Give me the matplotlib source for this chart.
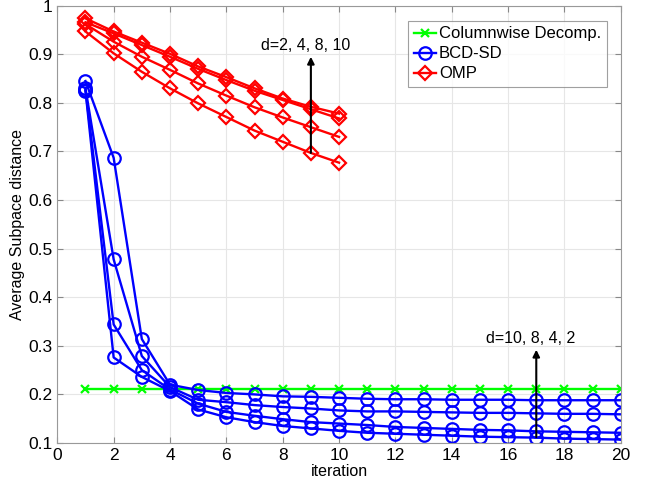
import matplotlib
matplotlib.use("Agg")
import matplotlib.pyplot as plt
import numpy as np

plt.rcParams['font.family'] = ['Liberation Sans', 'DejaVu Sans']

# iterations
iters_omp = np.arange(1, 11)
iters = np.arange(1, 21)

# Columnwise decomposition (flat)
colwise = [0.211] * 20

# BCD-SD, one curve per d
bcd = [
    [0.845, 0.687, 0.314, 0.220, 0.209, 0.203, 0.200, 0.196, 0.195, 0.193,
     0.191, 0.190, 0.190, 0.189, 0.189, 0.189, 0.188, 0.188, 0.188, 0.188],
    [0.830, 0.478, 0.279, 0.215, 0.189, 0.184, 0.178, 0.174, 0.171, 0.167,
     0.165, 0.165, 0.164, 0.163, 0.162, 0.162, 0.161, 0.160, 0.160, 0.159],
    [0.827, 0.344, 0.250, 0.210, 0.181, 0.164, 0.156, 0.149, 0.143, 0.140,
     0.137, 0.133, 0.131, 0.129, 0.127, 0.126, 0.124, 0.123, 0.122, 0.121],
    [0.825, 0.276, 0.236, 0.207, 0.169, 0.153, 0.143, 0.135, 0.130, 0.125,
     0.121, 0.119, 0.117, 0.115, 0.113, 0.112, 0.111, 0.109, 0.108, 0.107],
]

# OMP, one curve per d
omp = [
    [0.974, 0.947, 0.924, 0.901, 0.875, 0.853, 0.830, 0.809, 0.792, 0.778],
    [0.966, 0.943, 0.919, 0.895, 0.870, 0.847, 0.825, 0.806, 0.787, 0.768],
    [0.962, 0.926, 0.895, 0.868, 0.840, 0.815, 0.791, 0.770, 0.750, 0.730],
    [0.947, 0.902, 0.864, 0.830, 0.799, 0.771, 0.743, 0.720, 0.697, 0.677],
]

fig = plt.figure(figsize=(6.46, 4.86), dpi=100)
ax = fig.add_axes([0.0887, 0.0885, 0.8723, 0.8997])

lw = 1.7
ax.plot(iters, colwise, color='#00ff00', lw=lw, marker='x', ms=6, mew=1.6,
        label='Columnwise Decomp.')
for i, y in enumerate(bcd):
    ax.plot(iters, y, color='#0000ff', lw=lw, marker='o', ms=9, mfc='none',
            mew=1.6, label='BCD-SD' if i == 0 else None)
for i, y in enumerate(omp):
    ax.plot(iters_omp, y, color='#ff0000', lw=lw, marker='D', ms=7, mfc='none',
            mew=1.6, label='OMP' if i == 0 else None)

# arrows
ax.annotate('', xy=(9, 0.895), xytext=(9, 0.697),
            arrowprops=dict(arrowstyle='-|>', color='black', lw=1.5,
                            mutation_scale=10, shrinkA=0, shrinkB=0))
ax.text(8.8, 0.903, 'd=2, 4, 8, 10', ha='center', va='bottom', fontsize=11.5)
ax.annotate('', xy=(17, 0.292), xytext=(17, 0.112),
            arrowprops=dict(arrowstyle='-|>', color='black', lw=1.5,
                            mutation_scale=10, shrinkA=0, shrinkB=0))
ax.text(16.8, 0.300, 'd=10, 8, 4, 2', ha='center', va='bottom', fontsize=11.5)

ax.set_xlim(0, 20)
ax.set_ylim(0.1, 1)
ax.set_xticks(np.arange(0, 21, 2))
ax.set_yticks(np.arange(0.1, 1.01, 0.1))
ax.set_yticklabels(['0.1', '0.2', '0.3', '0.4', '0.5', '0.6', '0.7', '0.8', '0.9', '1'])
ax.grid(True, color='#e6e6e6', lw=0.8)
ax.tick_params(direction='in', top=True, right=True, labelsize=12.5,
               color='#888888', length=4)
for s in ax.spines.values():
    s.set_color('#999999')

ax.set_xlabel('iteration', fontsize=11.5, labelpad=1)
ax.set_ylabel('Average Subpace distance', fontsize=11.5, labelpad=2)

leg = ax.legend(loc='upper right', bbox_to_anchor=(0.99, 0.985), fontsize=12,
                fancybox=False, edgecolor='#888888', handlelength=1.3,
                handletextpad=0.2, borderpad=0.35, labelspacing=0.3)
leg.get_frame().set_linewidth(0.8)

fig.savefig('out.png', dpi=100)
